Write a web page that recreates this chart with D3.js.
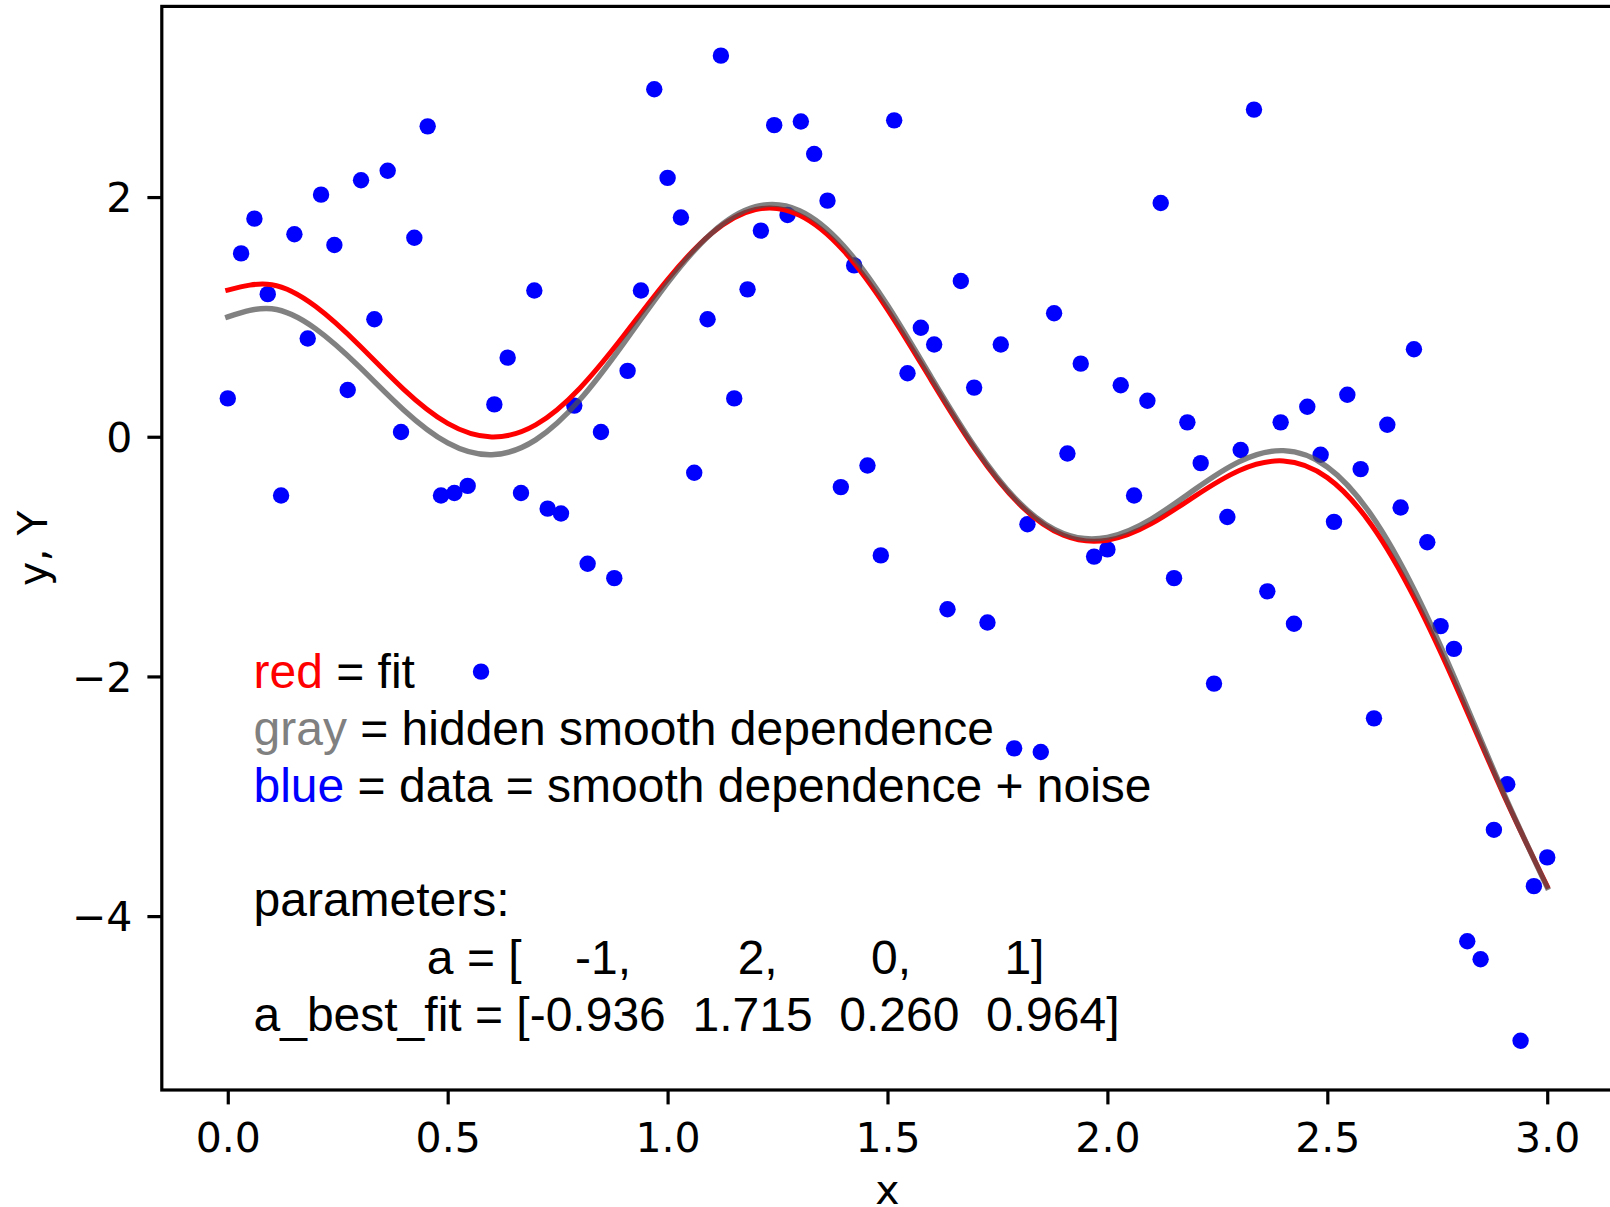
<!DOCTYPE html>
<html>
<head>
<meta charset="utf-8">
<script src="https://cdn.jsdelivr.net/npm/d3@7"></script>
<style>
    body { margin: 0; background: #fff; }
    svg { display: block; }
</style>
</head>
<body>
<svg id="chart" width="1610" height="1207"></svg>
<script>
// noisy data (100 samples from 0 to 3)
const dotX = [
    0, 0.0303, 0.0606, 0.0909, 0.1212, 0.1515, 0.1818, 0.2121, 0.2424, 0.2727,
    0.303, 0.3333, 0.3636, 0.3939, 0.4242, 0.4545, 0.4848, 0.5152, 0.5455, 0.5758,
    0.6061, 0.6364, 0.6667, 0.697, 0.7273, 0.7576, 0.7879, 0.8182, 0.8485, 0.8788,
    0.9091, 0.9394, 0.9697, 1.0, 1.0303, 1.0606, 1.0909, 1.1212, 1.1515, 1.1818,
    1.2121, 1.2424, 1.2727, 1.303, 1.3333, 1.3636, 1.3939, 1.4242, 1.4545, 1.4848,
    1.5152, 1.5455, 1.5758, 1.6061, 1.6364, 1.6667, 1.697, 1.7273, 1.7576, 1.7879,
    1.8182, 1.8485, 1.8788, 1.9091, 1.9394, 1.9697, 2.0, 2.0303, 2.0606, 2.0909,
    2.1212, 2.1515, 2.1818, 2.2121, 2.2424, 2.2727, 2.303, 2.3333, 2.3636, 2.3939,
    2.4242, 2.4545, 2.4848, 2.5152, 2.5455, 2.5758, 2.6061, 2.6364, 2.6667, 2.697,
    2.7273, 2.7576, 2.7879, 2.8182, 2.8485, 2.8788, 2.9091, 2.9394, 2.9697, 3.0
];
const dotY = [
    0.32, 1.53, 1.82, 1.19, -0.49, 1.69, 0.82, 2.02, 1.60, 0.39,
    2.14, 0.98, 2.22, 0.04, 1.66, 2.59, -0.49, -0.47, -0.41, -1.96,
    0.27, 0.66, -0.47, 1.22, -0.60, -0.64, 0.26, -1.06, 0.04, -1.18,
    0.55, 1.22, 2.90, 2.16, 1.83, -0.30, 0.98, 3.18, 0.32, 1.23,
    1.72, 2.60, 1.85, 2.63, 2.36, 1.97, -0.42, 1.43, -0.24, -0.99,
    2.64, 0.53, 0.91, 0.77, -1.44, 1.30, 0.41, -1.55, 0.77, -2.60,
    -0.73, -2.63, 1.03, -0.14, 0.61, -1.00, -0.94, 0.43, -0.49, 0.30,
    1.95, -1.18, 0.12, -0.22, -2.06, -0.67, -0.11, 2.73, -1.29, 0.12,
    -1.56, 0.25, -0.15, -0.71, 0.35, -0.27, -2.35, 0.10, -0.59, 0.73,
    -0.88, -1.58, -1.77, -4.21, -4.36, -3.28, -2.90, -5.04, -3.75, -3.51
];

// smooth curves, sampled every 0.1
const curveX = [
    0, 0.1, 0.2, 0.3, 0.4, 0.5, 0.6, 0.7, 0.8, 0.9, 1.0,
    1.1, 1.2, 1.3, 1.4, 1.5, 1.6, 1.7, 1.8, 1.9, 2.0,
    2.1, 2.2, 2.3, 2.4, 2.5, 2.6, 2.7, 2.8, 2.9, 3.0
];
const hiddenY = [
    1.000, 1.068, 0.900, 0.581, 0.224, -0.051, -0.150, -0.026, 0.306, 0.779, 1.284,
    1.699, 1.920, 1.887, 1.594, 1.097, 0.494, -0.092, -0.551, -0.807, -0.839,
    -0.686, -0.436, -0.207, -0.116, -0.252, -0.653, -1.295, -2.103, -2.965, -3.760
];
const fitY = [
    1.224, 1.268, 1.086, 0.759, 0.395, 0.111, -0.002, 0.099, 0.403, 0.842, 1.312,
    1.697, 1.896, 1.849, 1.553, 1.061, 0.468, -0.110, -0.564, -0.822, -0.863,
    -0.725, -0.493, -0.281, -0.202, -0.341, -0.734, -1.359, -2.144, -2.980, -3.751
];

const xTicks = [0, 0.5, 1.0, 1.5, 2.0, 2.5, 3.0];
const yTicks = [-4, -2, 0, 2];

const legendWords = ["red", "gray", "blue"];
const legendText = [" = fit", " = hidden smooth dependence", " = data = smooth dependence + noise"];
const aTrue = [-1, 2, 0, 1];
const aBestFit = [-0.936, 1.715, 0.260, 0.964];

const colors = { red: "#ff0000", gray: "#808080", blue: "#0000ff" };

const box = { left: 161.8, right: 1613.2, top: 6.4, bottom: 1090 };
const tickFont = "'DejaVu Sans', sans-serif";
const noteFont = "'Liberation Sans', Arial, sans-serif";

const svg = d3.select("#chart");

const x = d3.scaleLinear().domain([-0.15, 3.15]).range([box.left, box.right]);
const [yMin, yMax] = d3.extent(dotY);
const yPad = (yMax - yMin) * 0.05;
const y = d3.scaleLinear().domain([yMin - yPad, yMax + yPad]).range([box.bottom, box.top]);

// data dots
svg.append("g")
    .selectAll("circle")
    .data(dotX.map((d, i) => [d, dotY[i]]))
    .join("circle")
    .attr("cx", d => x(d[0]))
    .attr("cy", d => y(d[1]))
    .attr("r", 8.2)
    .attr("fill", colors.blue);

const line = d3.line()
    .x(d => x(d[0]))
    .y(d => y(d[1]))
    .curve(d3.curveNatural);

svg.append("path")
    .attr("d", line(curveX.map((d, i) => [d, fitY[i]])))
    .attr("fill", "none")
    .attr("stroke", colors.red)
    .attr("stroke-width", 5)
    .attr("stroke-linecap", "square");

// hidden dependence: translucent dark gray, reads as mid gray on white
svg.append("path")
    .attr("d", line(curveX.map((d, i) => [d, hiddenY[i]])))
    .attr("fill", "none")
    .attr("stroke", "#505050")
    .attr("stroke-opacity", 0.72)
    .attr("stroke-width", 5.4)
    .attr("stroke-linecap", "square");

// frame
svg.append("rect")
    .attr("x", box.left)
    .attr("y", box.top)
    .attr("width", box.right - box.left)
    .attr("height", box.bottom - box.top)
    .attr("fill", "none")
    .attr("stroke", "#000")
    .attr("stroke-width", 3.2);

// axes
const xAxis = svg.append("g")
    .attr("transform", `translate(0,${box.bottom})`)
    .call(d3.axisBottom(x).tickValues(xTicks).tickFormat(d3.format(".1f"))
        .tickSize(14.4).tickPadding(18.5));
const yAxis = svg.append("g")
    .attr("transform", `translate(${box.left},0)`)
    .call(d3.axisLeft(y).tickValues(yTicks).tickFormat(d3.format("d"))
        .tickSize(14.4).tickPadding(15));

for (let g of [xAxis, yAxis]) {
    g.select(".domain").remove();
    g.selectAll(".tick line").attr("stroke", "#000").attr("stroke-width", 3.2);
    g.selectAll(".tick text")
        .attr("fill", "#000")
        .style("font-family", tickFont)
        .style("font-size", "41px");
}
yAxis.selectAll(".tick text").attr("dy", "0.36em");

svg.append("text")
    .attr("x", (box.left + box.right) / 2)
    .attr("y", 1204)
    .attr("text-anchor", "middle")
    .style("font-family", tickFont)
    .style("font-size", "41px")
    .text("x");

svg.append("text")
    .attr("transform", `translate(47,${(box.top + box.bottom) / 2}) rotate(-90)`)
    .attr("text-anchor", "middle")
    .style("font-family", tickFont)
    .style("font-size", "41px")
    .text("y, Y");

// note block
const noteX = 253.5;
const lineGap = 57.1;
const firstBase = 688;

const note = svg.append("g")
    .style("font-family", noteFont)
    .style("font-size", "48px")
    .style("white-space", "pre");

legendWords.forEach((w, i) => {
    const t = note.append("text")
        .attr("x", noteX)
        .attr("y", firstBase + i * lineGap)
        .attr("xml:space", "preserve");
    t.append("tspan").attr("fill", colors[w]).text(w);
    t.append("tspan").attr("fill", "#000").text(legendText[i]);
});

const gaps = [4, 8, 7, 7];
const trueLine = " ".repeat(13) + "a = [" +
    aTrue.map((v, i) => " ".repeat(gaps[i]) + v + (i < aTrue.length - 1 ? "," : "]")).join("");
const fitLine = "a_best_fit = [" + aBestFit.map(v => v.toFixed(3)).join("  ") + "]";

["parameters:", trueLine, fitLine].forEach((s, i) => {
    note.append("text")
        .attr("x", noteX)
        .attr("y", firstBase + (4 + i) * lineGap)
        .attr("xml:space", "preserve")
        .attr("fill", "#000")
        .text(s);
});
</script>
</body>
</html>
